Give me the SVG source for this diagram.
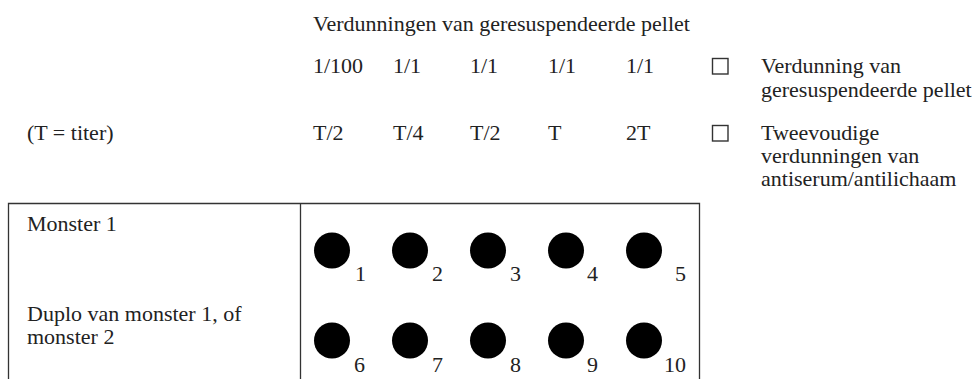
<svg xmlns="http://www.w3.org/2000/svg" width="975" height="379" viewBox="0 0 975 379">
<style>
text{font-family:"Liberation Serif","Times New Roman",serif;font-size:22px;fill:#222}
.ln{stroke:#333;stroke-width:1.3;fill:none}
.chk{stroke:#333;stroke-width:1.4;fill:#fff}
.well{fill:#000}
</style>
<rect width="975" height="379" fill="#fff"/>
<g id="header">
<text x="313" y="31">Verdunningen van geresuspendeerde pellet</text>
</g>
<g id="row-pellet">
<text x="313" y="73">1/100</text>
<text x="393" y="73">1/1</text>
<text x="470" y="73">1/1</text>
<text x="548" y="73">1/1</text>
<text x="626" y="73">1/1</text>
</g>
<g id="row-titer">
<text x="27" y="140">(T = titer)</text>
<text x="313" y="140">T/2</text>
<text x="393" y="140">T/4</text>
<text x="470" y="140">T/2</text>
<text x="548" y="140">T</text>
<text x="626" y="140">2T</text>
</g>
<g id="legend-pellet">
<rect class="chk" x="712.5" y="58.5" width="15.5" height="15.5"/>
<text x="761" y="73">Verdunning van</text>
<text x="761" y="97">geresuspendeerde pellet</text>
</g>
<g id="legend-titer">
<rect class="chk" x="712.5" y="125.5" width="15.5" height="15.5"/>
<text x="761" y="140">Tweevoudige</text>
<text x="761" y="163">verdunningen van</text>
<text x="761" y="186">antiserum/antilichaam</text>
</g>
<g id="connectors">
<path class="ln" d="M8.5 379V203.5H699.5V379M300.5 203.5V379"/>
</g>
<g id="sample1">
<text x="27" y="231">Monster 1</text>
</g>
<g id="sample2">
<text x="27" y="321">Duplo van monster 1, of</text>
<text x="27" y="344">monster 2</text>
</g>
<g id="wells-row1">
<circle class="well" cx="332" cy="250.5" r="18"/><text x="355" y="281">1</text>
<circle class="well" cx="410" cy="250.5" r="18"/><text x="432" y="281">2</text>
<circle class="well" cx="488" cy="250.5" r="18"/><text x="510" y="281">3</text>
<circle class="well" cx="566" cy="250.5" r="18"/><text x="587" y="281">4</text>
<circle class="well" cx="644" cy="250.5" r="18"/><text x="675" y="281">5</text>
</g>
<g id="wells-row2">
<circle class="well" cx="332" cy="340.5" r="18"/><text x="354" y="372">6</text>
<circle class="well" cx="410" cy="340.5" r="18"/><text x="432" y="372">7</text>
<circle class="well" cx="488" cy="340.5" r="18"/><text x="510" y="372">8</text>
<circle class="well" cx="566" cy="340.5" r="18"/><text x="587" y="372">9</text>
<circle class="well" cx="644" cy="340.5" r="18"/><text x="664" y="372">10</text>
</g>
</svg>
